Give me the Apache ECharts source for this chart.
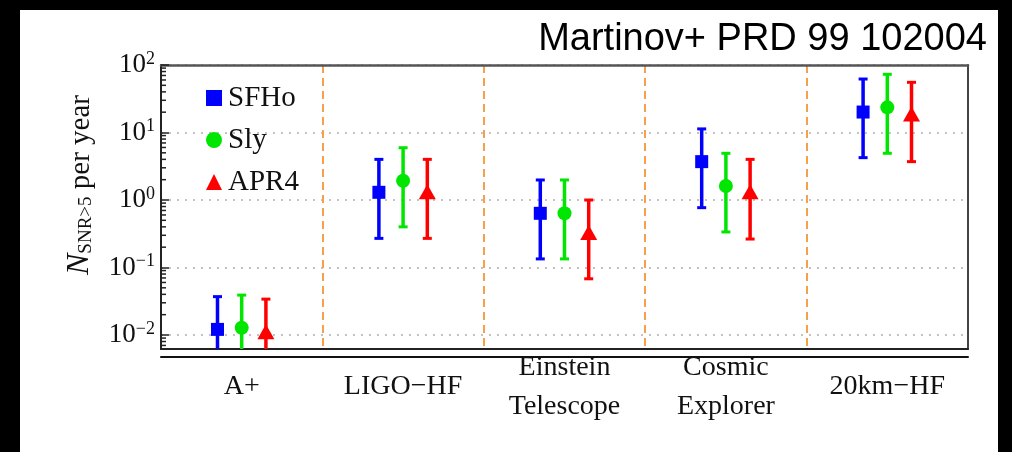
<!DOCTYPE html>
<html>
<head>
<meta charset="utf-8">
<script src="https://cdn.jsdelivr.net/npm/echarts@6/dist/echarts.min.js"></script>
<style>
  html, body { margin: 0; padding: 0; background: #fff; }
  #chart { width: 1012px; height: 452px; }
</style>
</head>
<body>
<div id="chart"></div>
<script>
// ---- data ----
const categories = ['A+', 'LIGO\u2212HF', 'Einstein\nTelescope', 'Cosmic\nExplorer', '20km\u2212HF'];
const seriesNames = ['SFHo', 'Sly', 'APR4'];

const sfhoMid  = [0.0121, 1.30, 0.635, 3.70, 20.1];
const sfhoLow  = [0.004, 0.27, 0.134, 0.77, 4.24];
const sfhoHigh = [0.037, 4.0, 1.98, 11.3, 62];

const slyMid   = [0.0128, 1.93, 0.635, 1.61, 23.6];
const slyLow   = [0.004, 0.40, 0.134, 0.336, 4.92];
const slyHigh  = [0.039, 5.95, 1.98, 4.92, 72.8];

const apr4Mid  = [0.0112, 1.33, 0.33, 1.33, 18.8];
const apr4Low  = [0.004, 0.27, 0.068, 0.264, 3.7];
const apr4High = [0.034, 4.0, 1.0, 4.0, 55.4];

const yMin = 0.0062;
const yMax = 100;
const minorTickValues = [0.007, 0.008, 0.009,
  0.02, 0.03, 0.04, 0.05, 0.06, 0.07, 0.08, 0.09,
  0.2, 0.3, 0.4, 0.5, 0.6, 0.7, 0.8, 0.9,
  2, 3, 4, 5, 6, 7, 8, 9,
  20, 30, 40, 50, 60, 70, 80, 90];

// ---- styling ----
const colors = ['#0000ff', '#00e600', '#ff0000'];
const offsets = [-0.15, 0, 0.15];       // fraction of category band
const shapes = ['square', 'circle', 'triangle'];
const serif = '"Liberation Serif", "DejaVu Serif", serif';

function makeData(mid, low, high) {
  return mid.map((m, i) => [i, m, low[i], high[i]]);
}

function errorRenderer(k) {
  return function (params, api) {
    const cat = api.value(0), mid = api.value(1), lo = api.value(2), hi = api.value(3);
    const p0 = api.coord([cat, mid]);
    const band = api.coord([1, mid])[0] - api.coord([0, mid])[0];
    const x = p0[0] + band * offsets[k];
    const y = p0[1];
    const yHi = api.coord([cat, hi])[1];
    const yLo = api.coord([cat, lo])[1];
    const col = colors[k];
    const capW = 4.5;
    const children = [
      { type: 'line', shape: { x1: x, y1: yLo, x2: x, y2: yHi }, style: { stroke: col, lineWidth: 3.5 } },
      { type: 'line', shape: { x1: x - capW, y1: yHi, x2: x + capW, y2: yHi }, style: { stroke: col, lineWidth: 3 } },
      { type: 'line', shape: { x1: x - capW, y1: yLo, x2: x + capW, y2: yLo }, style: { stroke: col, lineWidth: 3 } }
    ];
    if (shapes[k] === 'square') {
      children.push({ type: 'rect', shape: { x: x - 6.5, y: y - 6.5, width: 13, height: 13 }, style: { fill: col } });
    } else if (shapes[k] === 'circle') {
      children.push({ type: 'circle', shape: { cx: x, cy: y, r: 7 }, style: { fill: col } });
    } else {
      children.push({ type: 'polygon', shape: { points: [[x, y - 7.5], [x - 8.5, y + 7.5], [x + 8.5, y + 7.5]] }, style: { fill: col } });
    }
    return { type: 'group', children: children };
  };
}

function yLabel(v) {
  const lg = Math.log10(v);
  const e = Math.round(lg);
  if (Math.abs(lg - e) > 1e-6) return '';
  const es = e < 0 ? '\u2212' + Math.abs(e) : String(e);
  return '{b|10}{s|' + es + '}';
}

const chart = echarts.init(document.getElementById('chart'), null, { renderer: 'canvas' });

const option = {
  backgroundColor: '#ffffff',
  animation: false,
  grid: { left: 161, top: 65, right: 44, bottom: 103, containLabel: false },
  legend: {
    orient: 'vertical',
    left: 201,
    top: 78,
    itemWidth: 16,
    itemHeight: 16,
    itemGap: 12,
    selectedMode: false,
    textStyle: { fontFamily: serif, fontSize: 29, color: '#111', lineHeight: 30, padding: [0, 0, 0, 1] },
    data: [
      { name: 'SFHo', icon: 'rect' },
      { name: 'Sly', icon: 'circle' },
      { name: 'APR4', icon: 'triangle' }
    ]
  },
  xAxis: [
    {
      type: 'category',
      data: categories,
      position: 'bottom',
      boundaryGap: true,
      axisLine: { show: true, lineStyle: { color: '#222', width: 2 } },
      axisTick: { show: false },
      axisLabel: {
        interval: 0, margin: 38, verticalAlign: 'middle',
        fontFamily: serif, fontSize: 28, lineHeight: 39, color: '#111'
      },
      splitLine: { show: true, interval: 0, lineStyle: { color: '#f5a04a', width: 2, type: [8, 5] } }
    },
    {
      type: 'category',
      data: categories,
      position: 'bottom',
      offset: 8,
      axisLine: { show: true, lineStyle: { color: '#111', width: 2 } },
      axisTick: { show: false },
      axisLabel: { show: false },
      splitLine: { show: false }
    },
    {
      type: 'category',
      data: categories,
      position: 'top',
      axisLine: { show: true, lineStyle: { color: '#555', width: 2.5 } },
      axisTick: { show: false },
      axisLabel: { show: false },
      splitLine: { show: false }
    }
  ],
  yAxis: [
    {
      type: 'log',
      logBase: 10,
      min: yMin,
      max: yMax,
      position: 'left',
      axisLine: { show: true, lineStyle: { color: '#222', width: 2 } },
      axisTick: { show: true, inside: true, length: 8, lineStyle: { color: '#222', width: 1.5 } },
      axisLabel: {
        formatter: yLabel,
        margin: 6,
        color: '#111',
        rich: {
          b: { fontFamily: serif, fontSize: 27, lineHeight: 30, color: '#111' },
          s: { fontFamily: serif, fontSize: 18, lineHeight: 18, verticalAlign: 'top', color: '#111' }
        }
      },
      splitLine: { show: true, lineStyle: { color: '#b0b0b0', width: 1.5, type: [2, 6] } },
      name: '{n|N}{sub|SNR>5}{t| per year}',
      nameLocation: 'middle',
      nameRotate: 90,
      nameGap: 65,
      nameTextStyle: {
        padding: [0, 0, 0, 44],
        rich: {
          n: { fontFamily: serif, fontStyle: 'italic', fontSize: 32, color: '#111', lineHeight: 34, verticalAlign: 'bottom' },
          sub: { fontFamily: serif, fontSize: 19, color: '#111', lineHeight: 26, verticalAlign: 'bottom' },
          t: { fontFamily: serif, fontSize: 29, color: '#111', lineHeight: 34, verticalAlign: 'bottom' }
        }
      }
    },
    {
      type: 'log',
      logBase: 10,
      min: yMin,
      max: yMax,
      position: 'right',
      axisLine: { show: true, lineStyle: { color: '#444', width: 2 } },
      axisTick: { show: false },
      axisLabel: { show: false },
      splitLine: { show: false }
    }
  ],
  graphic: [
    { type: 'text', right: 25, top: 21, z: 10,
      style: { text: 'Martinov+ PRD 99 102004', font: '38px "Liberation Sans", Arial, sans-serif', fill: '#000' } },
    { type: 'rect', left: 0, top: 0, z: 20, shape: { width: 20, height: 452 }, style: { fill: '#000' } },
    { type: 'rect', left: 0, top: 0, z: 20, shape: { width: 1012, height: 10 }, style: { fill: '#000' } },
    { type: 'rect', left: 998, top: 0, z: 20, shape: { width: 14, height: 452 }, style: { fill: '#000' } }
  ],
  series: [
    {
      name: 'minorTicks',
      type: 'custom',
      silent: true,
      xAxisIndex: 0, yAxisIndex: 0,
      data: minorTickValues.map(v => [0, v]),
      renderItem: function (params, api) {
        const y = api.coord([0, api.value(1)])[1];
        const x0 = params.coordSys.x;
        return { type: 'line', shape: { x1: x0, y1: y, x2: x0 + 5, y2: y }, style: { stroke: '#222', lineWidth: 1.5 } };
      },
      z: 6
    },
    {
      name: 'SFHo', type: 'custom', clip: true, xAxisIndex: 0, yAxisIndex: 0,
      itemStyle: { color: colors[0] },
      data: makeData(sfhoMid, sfhoLow, sfhoHigh),
      renderItem: errorRenderer(0), z: 5
    },
    {
      name: 'Sly', type: 'custom', clip: true, xAxisIndex: 0, yAxisIndex: 0,
      itemStyle: { color: colors[1] },
      data: makeData(slyMid, slyLow, slyHigh),
      renderItem: errorRenderer(1), z: 5
    },
    {
      name: 'APR4', type: 'custom', clip: true, xAxisIndex: 0, yAxisIndex: 0,
      itemStyle: { color: colors[2] },
      data: makeData(apr4Mid, apr4Low, apr4High),
      renderItem: errorRenderer(2), z: 5
    }
  ]
};

chart.setOption(option);
</script>
</body>
</html>
